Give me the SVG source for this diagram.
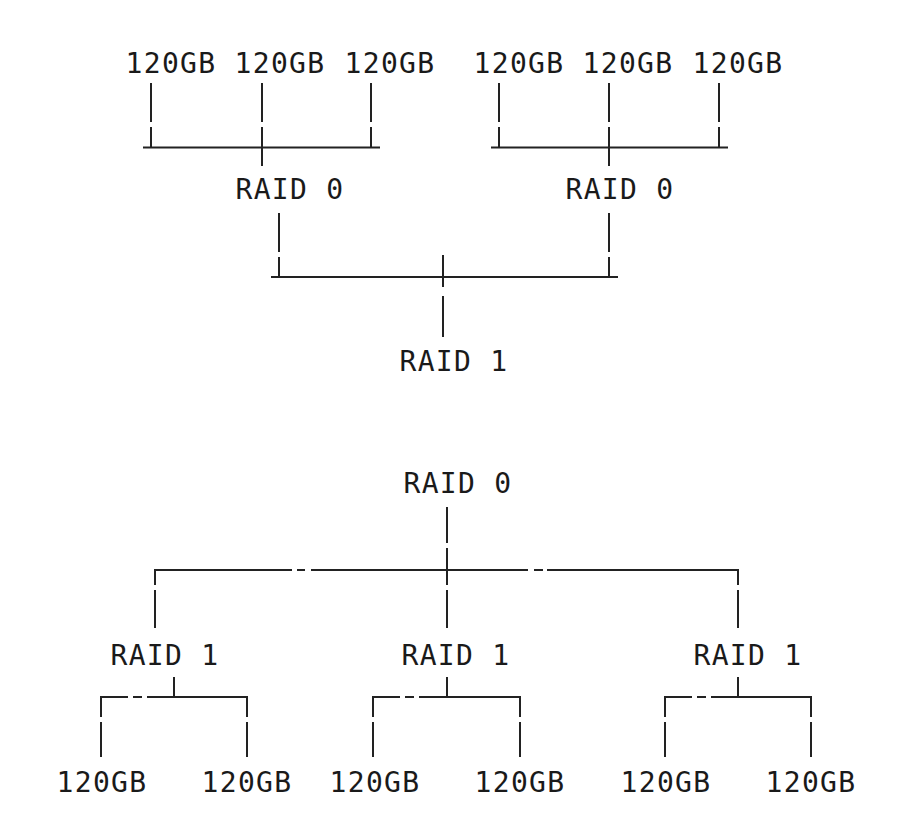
<svg xmlns="http://www.w3.org/2000/svg" width="910" height="834" viewBox="0 0 910 834">
<style>
  text { font-family: "DejaVu Sans Mono", "Liberation Mono", monospace; font-size: 28px; letter-spacing: 1.3px; fill: #1a1a1a; text-anchor: middle; }
  .c line { stroke: #222; stroke-width: 2; fill: none; }
</style>
<rect width="910" height="834" fill="#fff"/>
<g id="connectors" class="c">
  <!-- top group 1 -->
  <line x1="151" y1="83" x2="151" y2="122"/><line x1="151" y1="127" x2="151" y2="147"/>
  <line x1="262" y1="83" x2="262" y2="122"/><line x1="262" y1="127" x2="262" y2="166"/>
  <line x1="371" y1="83" x2="371" y2="122"/><line x1="371" y1="127" x2="371" y2="147"/>
  <line x1="143" y1="147.5" x2="380" y2="147.5"/>
  <!-- top group 2 -->
  <line x1="499" y1="83" x2="499" y2="122"/><line x1="499" y1="127" x2="499" y2="147"/>
  <line x1="609" y1="83" x2="609" y2="122"/><line x1="609" y1="127" x2="609" y2="166"/>
  <line x1="719" y1="83" x2="719" y2="122"/><line x1="719" y1="127" x2="719" y2="147"/>
  <line x1="491" y1="147.5" x2="728" y2="147.5"/>
  <!-- level 2 -->
  <line x1="279" y1="213" x2="279" y2="252"/><line x1="279" y1="257" x2="279" y2="277"/>
  <line x1="609" y1="213" x2="609" y2="252"/><line x1="609" y1="257" x2="609" y2="277"/>
  <line x1="271" y1="277" x2="618" y2="277"/>
  <line x1="443" y1="255" x2="443" y2="287"/><line x1="443" y1="296" x2="443" y2="337"/>
  <!-- bottom top-level -->
  <line x1="447" y1="507" x2="447" y2="543"/><line x1="447" y1="548" x2="447" y2="585"/><line x1="447" y1="590" x2="447" y2="628"/>
  <line x1="155" y1="570" x2="292" y2="570"/><line x1="297" y1="570" x2="305" y2="570"/><line x1="311" y1="570" x2="528" y2="570"/>
  <line x1="534" y1="570" x2="543" y2="570"/><line x1="547" y1="570" x2="738" y2="570"/>
  <line x1="155" y1="569" x2="155" y2="585"/><line x1="155" y1="590" x2="155" y2="628"/>
  <line x1="738" y1="569" x2="738" y2="585"/><line x1="738" y1="590" x2="738" y2="628"/>
  <!-- bottom group 1 -->
  <line x1="174" y1="677" x2="174" y2="697"/>
  <line x1="101" y1="697" x2="128" y2="697"/><line x1="133" y1="697" x2="142" y2="697"/><line x1="147" y1="697" x2="247" y2="697"/>
  <line x1="101" y1="696" x2="101" y2="717"/><line x1="101" y1="722" x2="101" y2="757"/>
  <line x1="247" y1="696" x2="247" y2="717"/><line x1="247" y1="722" x2="247" y2="757"/>
  <!-- bottom group 2 -->
  <line x1="447" y1="677" x2="447" y2="697"/>
  <line x1="373" y1="697" x2="400" y2="697"/><line x1="405" y1="697" x2="414" y2="697"/><line x1="419" y1="697" x2="520" y2="697"/>
  <line x1="373" y1="696" x2="373" y2="717"/><line x1="373" y1="722" x2="373" y2="757"/>
  <line x1="520" y1="696" x2="520" y2="717"/><line x1="520" y1="722" x2="520" y2="757"/>
  <!-- bottom group 3 -->
  <line x1="738" y1="677" x2="738" y2="697"/>
  <line x1="665" y1="697" x2="692" y2="697"/><line x1="697" y1="697" x2="706" y2="697"/><line x1="711" y1="697" x2="811" y2="697"/>
  <line x1="665" y1="696" x2="665" y2="717"/><line x1="665" y1="722" x2="665" y2="757"/>
  <line x1="811" y1="696" x2="811" y2="717"/><line x1="811" y1="722" x2="811" y2="757"/>
</g>
<g id="top-disk-1"><text x="171" y="73">120GB</text></g>
<g id="top-disk-2"><text x="280" y="73">120GB</text></g>
<g id="top-disk-3"><text x="390" y="73">120GB</text></g>
<g id="top-disk-4"><text x="519" y="73">120GB</text></g>
<g id="top-disk-5"><text x="628" y="73">120GB</text></g>
<g id="top-disk-6"><text x="738" y="73">120GB</text></g>
<g id="top-raid0-a"><text x="290" y="199">RAID 0</text></g>
<g id="top-raid0-b"><text x="620" y="199">RAID 0</text></g>
<g id="top-raid1"><text x="454" y="371">RAID 1</text></g>
<g id="bottom-raid0"><text x="458" y="493">RAID 0</text></g>
<g id="bottom-raid1-a"><text x="165" y="665">RAID 1</text></g>
<g id="bottom-raid1-b"><text x="456" y="665">RAID 1</text></g>
<g id="bottom-raid1-c"><text x="748" y="665">RAID 1</text></g>
<g id="bottom-disk-1"><text x="102" y="792">120GB</text></g>
<g id="bottom-disk-2"><text x="247" y="792">120GB</text></g>
<g id="bottom-disk-3"><text x="375" y="792">120GB</text></g>
<g id="bottom-disk-4"><text x="520" y="792">120GB</text></g>
<g id="bottom-disk-5"><text x="666" y="792">120GB</text></g>
<g id="bottom-disk-6"><text x="811" y="792">120GB</text></g>
</svg>
